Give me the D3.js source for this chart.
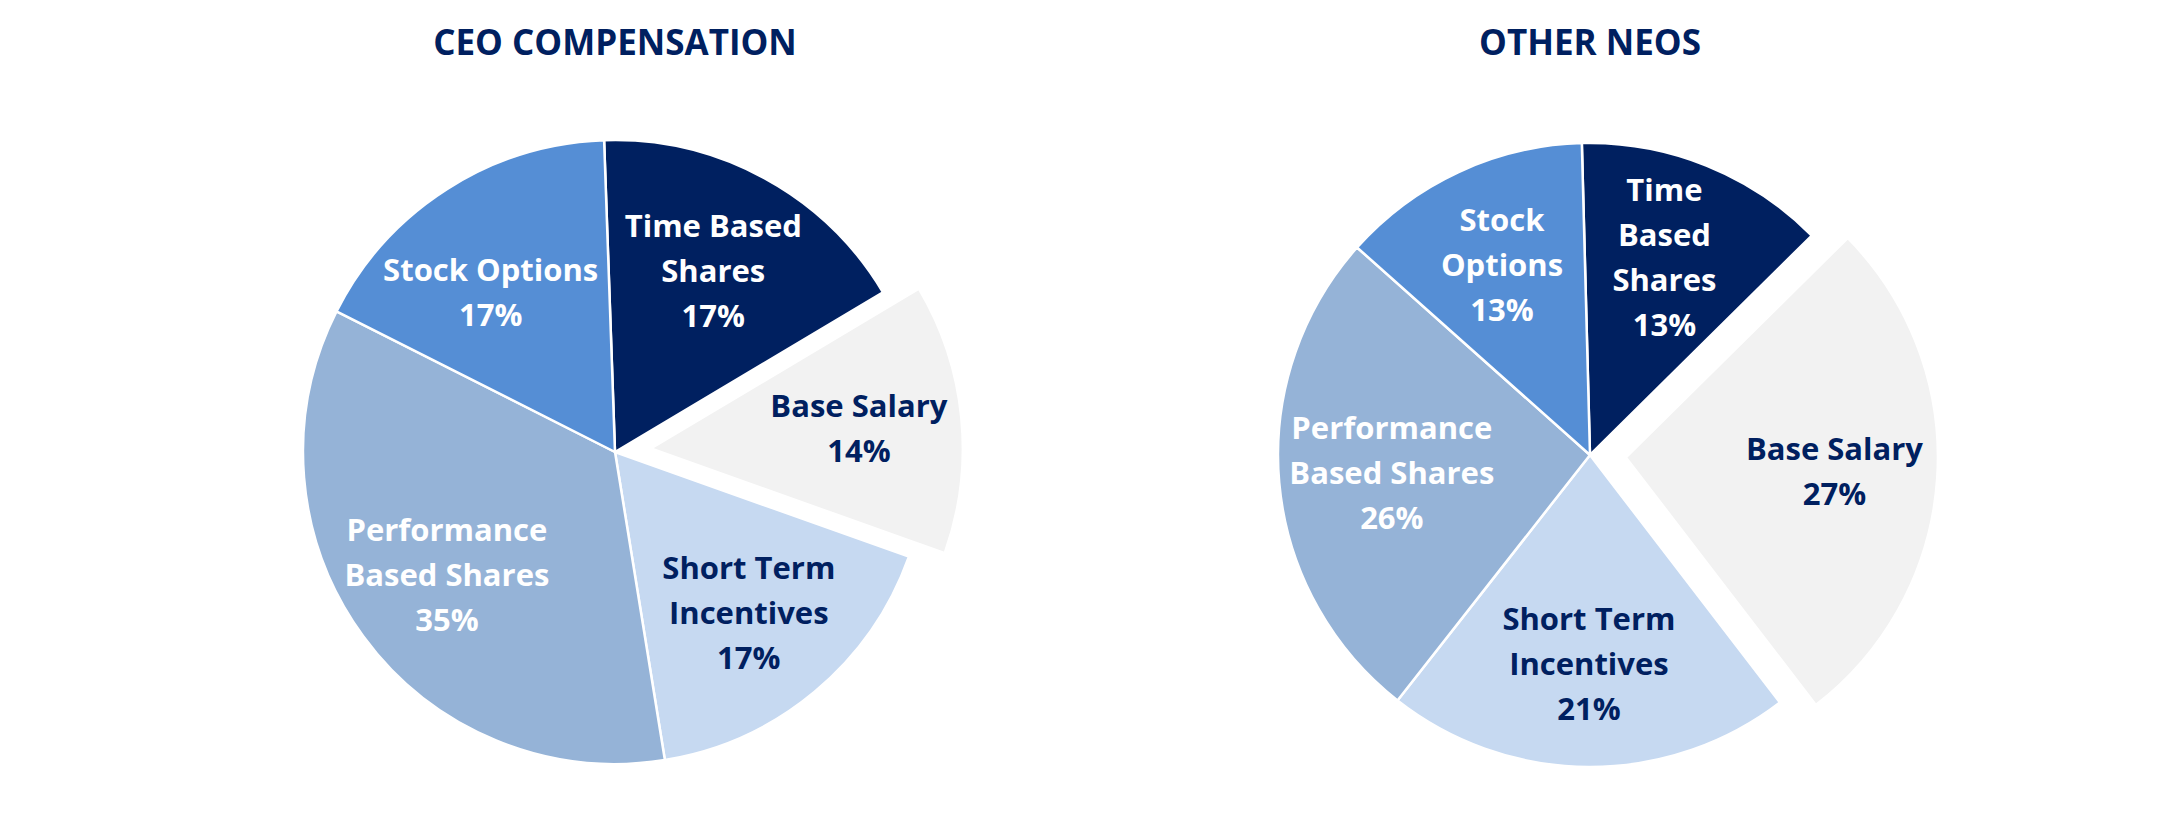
<!DOCTYPE html>
<html>
<head>
<meta charset="utf-8">
<script src="https://cdn.jsdelivr.net/npm/d3@7"></script>
<style>
  body { margin: 0; background: #ffffff; }
  text { font-family: "Open Sans", "Noto Sans", sans-serif; font-weight: 700; }
</style>
</head>
<body>
<svg id="chart"></svg>
<script>
// slices go clockwise from about 12 o'clock
var categories = ["Time Based Shares", "Base Salary", "Short Term Incentives", "Performance Based Shares", "Stock Options"];
var ceoValues = [17, 14, 17, 35, 17];
var neoValues = [13, 27, 21, 26, 13];
var ceoLabels = [["Time Based", "Shares"], ["Base Salary"], ["Short Term", "Incentives"], ["Performance", "Based Shares"], ["Stock Options"]];
var neoLabels = [["Time", "Based", "Shares"], ["Base Salary"], ["Short Term", "Incentives"], ["Performance", "Based Shares"], ["Stock", "Options"]];
var titles = ["CEO COMPENSATION", "OTHER NEOS"];
var exploded = "Base Salary";

var w = 2170;
var h = 839;
var radius = 312;
var explode = 36;
var fontSize = 31;
var capH = 22;
var lineGap = 45;
var navy = "#002060";

var color = d3.scaleOrdinal()
    .domain(categories)
    .range(["#002060", "#f2f2f2", "#c6d9f1", "#95b3d7", "#558ed5"]);
var labelColor = d3.scaleOrdinal()
    .domain(categories)
    .range(["#ffffff", navy, navy, "#ffffff", "#ffffff"]);

var svg = d3.select("#chart")
    .attr("width", w)
    .attr("height", h);

svg.append("rect").attr("width", w).attr("height", h).attr("fill", "#ffffff");

var arc = d3.arc().innerRadius(0).outerRadius(radius);
var labelArc = d3.arc().innerRadius(radius * 0.67).outerRadius(radius * 0.67);

// corners of every text line, for a block centred on p
function lineCorners(p, widths) {
    var top = -(capH + (widths.length - 1) * lineGap) / 2;
    var out = [];
    widths.forEach(function(lw, i) {
        var y0 = p[1] + top + i * lineGap;
        var y1 = y0 + capH;
        out.push([p[0] - lw / 2, y0], [p[0] + lw / 2, y0], [p[0] - lw / 2, y1], [p[0] + lw / 2, y1]);
    });
    return out;
}

// push a label inside its slice: inside the circle and clear of both straight edges
// angles are d3 angles, clockwise from 12 o'clock
function fitLabel(p, widths, a0, a1) {
    var pad = 10;
    for (var it = 0; it < 100; it++) {
        var worst = 0, wx = 0, wy = 0;
        lineCorners(p, widths).forEach(function(c) {
            var d = Math.hypot(c[0], c[1]);
            if (d - (radius - pad) > worst) {
                worst = d - (radius - pad);
                wx = c[0] / d; wy = c[1] / d;
            }
        });
        p[0] -= wx * worst * 0.5;
        p[1] -= wy * worst * 0.5;
        [[Math.cos(a0), Math.sin(a0)], [-Math.cos(a1), -Math.sin(a1)]].forEach(function(n) {
            var v = 0;
            lineCorners(p, widths).forEach(function(c) {
                var s = c[0] * n[0] + c[1] * n[1];
                if (pad - s > v) v = pad - s;
            });
            p[0] += n[0] * v * 0.5;
            p[1] += n[1] * v * 0.5;
        });
    }
    return p;
}

function drawPie(cx, cy, values, labels, title, start) {
    var pie = d3.pie()
        .sort(null)
        .value(function(d) { return d.value; })
        .startAngle(start * Math.PI / 180)
        .endAngle(start * Math.PI / 180 + 2 * Math.PI);

    var data = pie(values.map(function(v, i) {
        return {name: categories[i], value: v, lines: labels[i]};
    }));

    var g = svg.append("g").attr("transform", "translate(" + cx + "," + cy + ")");

    g.append("text")
        .attr("x", 0)
        .attr("y", 55 - cy)
        .attr("text-anchor", "middle")
        .attr("fill", navy)
        .style("font-size", "35px")
        .text(title);

    var slices = g.selectAll("g.slice")
        .data(data)
        .enter()
        .append("g")
        .attr("class", "slice")
        .attr("transform", function(d) {
            if (d.data.name !== exploded) return null;
            var mid = (d.startAngle + d.endAngle) / 2;
            return "translate(" + (Math.sin(mid) * explode) + "," + (-Math.cos(mid) * explode) + ")";
        });

    slices.append("path")
        .attr("d", arc)
        .attr("fill", function(d) { return color(d.data.name); })
        .attr("stroke", "#ffffff")
        .attr("stroke-width", 2.5)
        .attr("stroke-linejoin", "round");

    slices.each(function(d) {
        var t = d3.select(this).append("text")
            .attr("text-anchor", "middle")
            .attr("fill", labelColor(d.data.name))
            .style("font-size", fontSize + "px");
        var lines = d.data.lines.concat([d.data.value + "%"]);
        var spans = lines.map(function(line, i) {
            return t.append("tspan").attr("x", 0).attr("y", i * lineGap).text(line);
        });
        var widths = spans.map(function(s) { return s.node().getComputedTextLength(); });
        var p = fitLabel(labelArc.centroid(d), widths, d.startAngle, d.endAngle);
        // first baseline sits capH below the top of the block
        var top = p[1] - (capH + (lines.length - 1) * lineGap) / 2;
        t.attr("transform", "translate(" + p[0] + "," + (top + capH) + ")");
    });
}

drawPie(615, 452, ceoValues, ceoLabels, titles[0], -2);
drawPie(1590, 455, neoValues, neoLabels, titles[1], -1.5);
</script>
</body>
</html>
